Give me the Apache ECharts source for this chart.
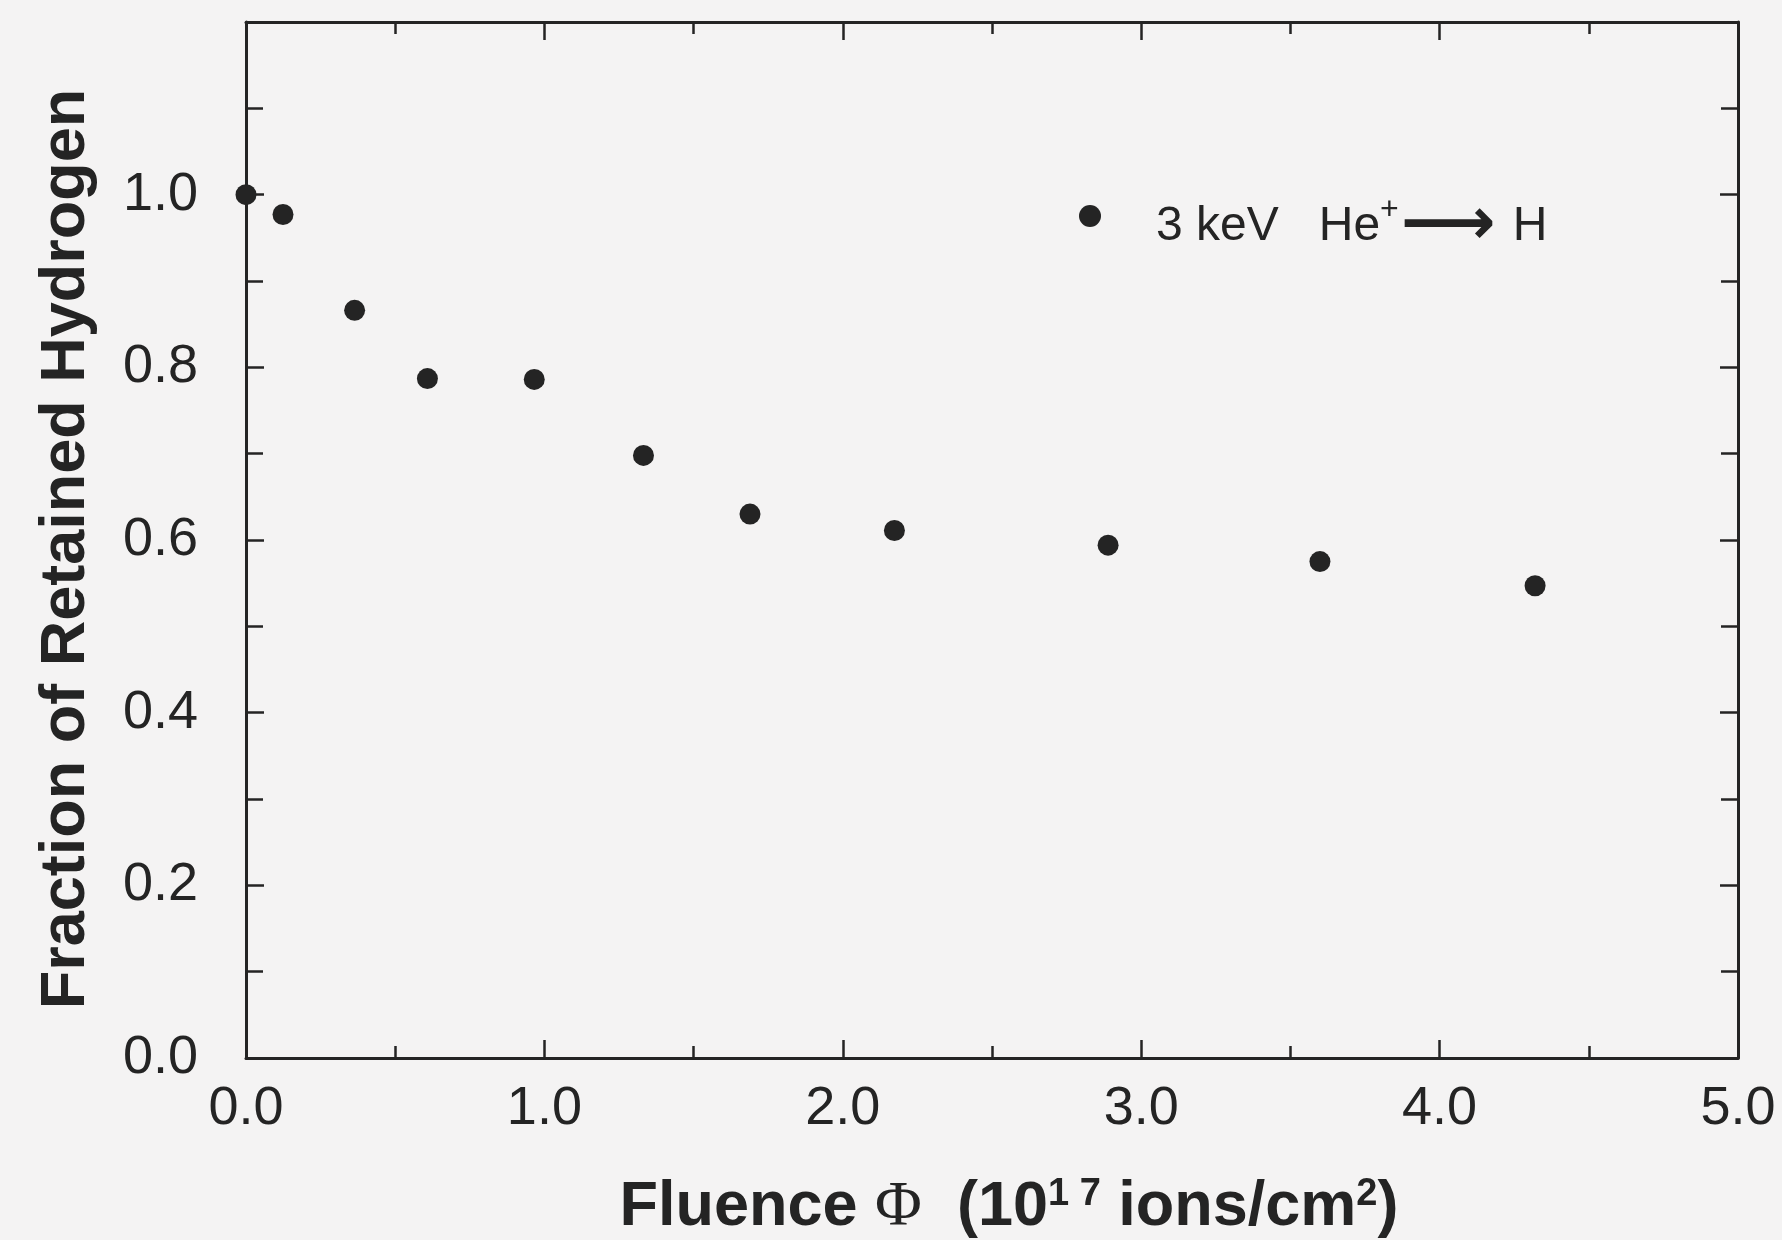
<!DOCTYPE html>
<html>
<head>
<meta charset="utf-8">
<title>Fraction of Retained Hydrogen vs Fluence</title>
<script src="https://cdn.jsdelivr.net/npm/echarts@6/dist/echarts.min.js"></script>
<style>
  html, body { margin: 0; padding: 0; background: #f4f3f3; }
  #chart { width: 1782px; height: 1240px; }
</style>
</head>
<body>
<div id="chart"></div>
<script>
// Fluence (10^17 ions/cm^2) and fraction of hydrogen retained
const fluence  = [0.0, 0.124, 0.364, 0.608, 0.966, 1.332, 1.689, 2.173, 2.889, 3.599, 4.320];
const retained = [1.0, 0.977, 0.866, 0.787, 0.786, 0.698, 0.630, 0.611, 0.594, 0.575, 0.547];

const seriesName = '3 keV He+ -> H';
const xTickLabels = ['0.0', '1.0', '2.0', '3.0', '4.0', '5.0'];
const yTickLabels = ['0.0', '0.2', '0.4', '0.6', '0.8', '1.0'];

const ink = '#242424';
const sans = '"Liberation Sans", Arial, Helvetica, sans-serif';

const points = fluence.map((x, i) => [x, retained[i]]);

const tickStyle = { color: ink, width: 2.5 };

function frameAxis(extra) {
  return Object.assign({
    type: 'value',
    axisLine: { show: true, onZero: false, lineStyle: { color: ink, width: 3 } },
    splitLine: { show: false },
    minorSplitLine: { show: false }
  }, extra);
}

const chart = echarts.init(document.getElementById('chart'), null, { renderer: 'canvas' });

chart.setOption({
  animation: false,
  backgroundColor: '#f4f3f3',
  textStyle: { fontFamily: sans },
  grid: {
    left: 246, right: 44, top: 22, bottom: 182,
    containLabel: false,
    outerBoundsMode: 'none'
  },
  xAxis: [
    frameAxis({
      min: 0, max: 5, interval: 1, position: 'bottom',
      axisTick: { inside: true, length: 18, lineStyle: tickStyle },
      minorTick: { show: true, splitNumber: 2, length: 12, lineStyle: tickStyle },
      axisLabel: {
        margin: 24, color: ink, fontSize: 54, fontFamily: sans,
        formatter: v => xTickLabels[Math.round(v)] || ''
      },
      name: '{b|Fluence }{phi|\u03A6}{n|  (10}{sup|1 7}{n| ions/cm}{sup|2}{n|)}',
      nameLocation: 'middle',
      nameGap: 118,
      nameTextStyle: {
        padding: [0, 0, 0, 34],
        rich: {
          b:   { fontSize: 63, fontWeight: 'bold', color: ink, fontFamily: sans },
          phi: { fontSize: 64, color: ink, fontFamily: '"Liberation Serif", "DejaVu Serif", serif' },
          n:   { fontSize: 63, fontWeight: 'bold', color: ink, fontFamily: sans },
          sup: { fontSize: 38, fontWeight: 'bold', color: ink, fontFamily: sans, verticalAlign: 'top' }
        }
      }
    }),
    frameAxis({
      min: 0, max: 5, interval: 1, position: 'top',
      axisTick: { inside: true, length: 18, lineStyle: tickStyle },
      minorTick: { show: true, splitNumber: 2, length: 12, lineStyle: tickStyle },
      axisLabel: { show: false }
    })
  ],
  yAxis: [
    frameAxis({
      min: 0, max: 1.2, interval: 0.2, position: 'left',
      axisTick: { inside: true, length: 18, lineStyle: tickStyle },
      minorTick: { show: true, splitNumber: 2, length: 17, lineStyle: tickStyle },
      axisLabel: {
        margin: 48, color: ink, fontSize: 54, fontFamily: sans,
        formatter: v => yTickLabels[Math.round(v * 5)] || ''
      },
      name: 'Fraction of Retained Hydrogen',
      nameLocation: 'middle',
      nameGap: 148,
      nameTextStyle: {
        fontSize: 63, fontWeight: 'bold', color: ink, fontFamily: sans,
        padding: [0, 18, 0, 0]
      }
    }),
    frameAxis({
      min: 0, max: 1.2, interval: 0.2, position: 'right',
      axisTick: { inside: true, length: 18, lineStyle: tickStyle },
      minorTick: { show: true, splitNumber: 2, length: 17, lineStyle: tickStyle },
      axisLabel: { show: false }
    })
  ],
  legend: {
    data: [seriesName],
    left: 1079,
    top: 194,
    padding: 0,
    itemWidth: 22,
    itemHeight: 22,
    icon: 'circle',
    selectedMode: false,
    itemStyle: { color: ink, opacity: 1 },
    formatter: () => '{a|3 keV   He}{s|+}{r|\u27F6}{h| H}',
    textStyle: {
      rich: {
        a: { fontSize: 48, color: ink, fontFamily: sans, padding: [22, 0, 0, 50] },
        s: { fontSize: 32, color: ink, fontFamily: sans, verticalAlign: 'top', padding: [22, 2, 0, 0] },
        r: { fontSize: 66, fontWeight: 'bold', color: ink, fontFamily: '"DejaVu Sans", ' + sans, padding: [22, 0, 0, 0] },
        h: { fontSize: 48, color: ink, fontFamily: sans, padding: [22, 0, 0, 4] }
      }
    }
  },
  series: [{
    name: seriesName,
    type: 'scatter',
    xAxisIndex: 0,
    yAxisIndex: 0,
    data: points,
    symbol: 'circle',
    symbolSize: 21,
    clip: false,
    itemStyle: { color: ink, opacity: 1 },
    z: 5
  }]
});
</script>
</body>
</html>
